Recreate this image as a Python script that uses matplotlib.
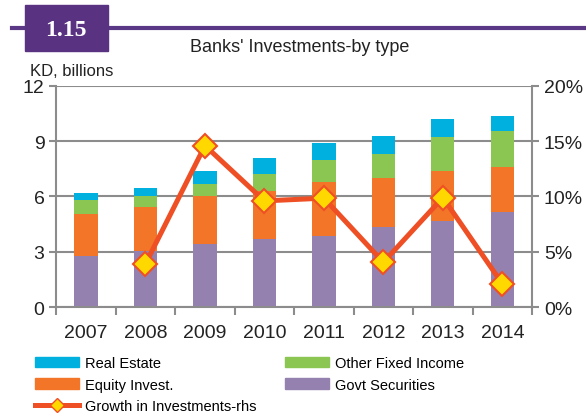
import matplotlib.pyplot as plt
import matplotlib.patches as mpatches
from matplotlib.lines import Line2D
import numpy as np

plt.rcParams['font.family'] = ['Liberation Sans', 'DejaVu Sans']

years = ['2007', '2008', '2009', '2010', '2011', '2012', '2013', '2014']
govt = [2.75, 3.04, 3.44, 3.71, 3.84, 4.36, 4.65, 5.14]
equity = [2.32, 2.37, 2.59, 2.59, 2.96, 2.66, 2.75, 2.48]
other_fixed = [0.74, 0.63, 0.67, 0.94, 1.20, 1.30, 1.83, 1.93]
real_estate = [0.38, 0.40, 0.67, 0.85, 0.90, 0.95, 0.96, 0.84]
growth_years = ['2008', '2009', '2010', '2011', '2012', '2013', '2014']
growth = [3.9, 14.6, 9.6, 9.85, 4.05, 9.9, 2.1]

c_govt = '#9581b0'
c_eq = '#f37527'
c_ofi = '#8bc653'
c_re = '#00b0df'
c_line = '#ef4f24'
c_mark = '#ffd800'
grey = '#8c8c8c'

fig = plt.figure(figsize=(5.86, 4.14), dpi=100)
ax = fig.add_axes([0.096, 0.256, 0.812, 0.534])

x = np.arange(len(years))
w = 0.39
b1 = np.array(govt)
b2 = b1 + np.array(equity)
b3 = b2 + np.array(other_fixed)
ax.bar(x, govt, w, color=c_govt, zorder=2)
ax.bar(x, equity, w, bottom=b1, color=c_eq, zorder=2)
ax.bar(x, other_fixed, w, bottom=b2, color=c_ofi, zorder=2)
ax.bar(x, real_estate, w, bottom=b3, color=c_re, zorder=2)

ax.set_xlim(-0.5, len(years) - 0.5)
ax.set_ylim(0, 12)
ax.set_yticks([0, 3, 6, 9, 12])
ax.yaxis.grid(True, color=grey, linewidth=1.5, zorder=0)
ax.set_axisbelow(True)
ax.set_xticks(x)
ax.set_xticklabels(years)
ax.set_xticks(np.arange(-0.5, len(years), 1.0), minor=True)
ax.tick_params(axis='x', which='major', length=0, labelsize=14, pad=12, colors='#222222')
ax.tick_params(axis='x', which='minor', length=6, width=1.5, color=grey)
ax.tick_params(axis='y', length=5, width=1.5, color=grey, labelsize=14, labelcolor='#222222')
for s in ['left', 'bottom', 'right']:
    ax.spines[s].set_color(grey)
    ax.spines[s].set_linewidth(1.5)
ax.spines['top'].set_visible(False)

ax2 = ax.twinx()
gx = [years.index(y) for y in growth_years]
ax2.plot(gx, growth, color=c_line, linewidth=3.6, marker='D', markersize=12,
         markerfacecolor=c_mark, markeredgecolor=c_line, markeredgewidth=1.5, zorder=3)
ax2.set_ylim(0, 20)
ax2.set_yticks([0, 5, 10, 15, 20])
ax2.set_yticklabels(['0%', '5%', '10%', '15%', '20%'])
ax2.tick_params(axis='y', length=5, width=1.5, color=grey, labelsize=14, labelcolor='#222222')
for s in ax2.spines.values():
    s.set_visible(False)

# header
fig.add_artist(Line2D([0.02, 1.0], [1 - 29 / 414, 1 - 29 / 414], color='#5b3885', linewidth=3))
fig.patches.append(mpatches.Rectangle((25 / 586, 1 - 52 / 414), 83 / 586, 46 / 414,
                                      transform=fig.transFigure, color='#5a3282', zorder=3))
fig.text(66 / 586, 1 - 30 / 414, '1.15', color='white', fontsize=17, fontweight='bold',
         family='Liberation Serif', ha='center', va='center', zorder=4)
fig.text(300 / 586, 1 - 48 / 414, "Banks' Investments-by type", fontsize=13,
         ha='center', va='center', color='#222222')
fig.text(30 / 586, 1 - 72 / 414, 'KD, billions', fontsize=12, ha='left', va='center',
         color='#222222')

leg_kw = dict(loc='upper left', frameon=False, fontsize=10.5, handlelength=3.0,
              handleheight=0.7, labelspacing=0.52, handletextpad=0.45, borderpad=0,
              borderaxespad=0)
lh = Line2D([], [], color=c_line, linewidth=3.6, marker='D', markersize=7,
            markerfacecolor=c_mark, markeredgecolor=c_line)
fig.legend([mpatches.Patch(color=c_re), mpatches.Patch(color=c_eq), lh],
           ['Real Estate', 'Equity Invest.', 'Growth in Investments-rhs'],
           bbox_to_anchor=(35 / 586, 1 - 357 / 414), **leg_kw)
fig.legend([mpatches.Patch(color=c_ofi), mpatches.Patch(color=c_govt)],
           ['Other Fixed Income', 'Govt Securities'],
           bbox_to_anchor=(285 / 586, 1 - 357 / 414), **leg_kw)

fig.savefig('out.png', dpi=100)
